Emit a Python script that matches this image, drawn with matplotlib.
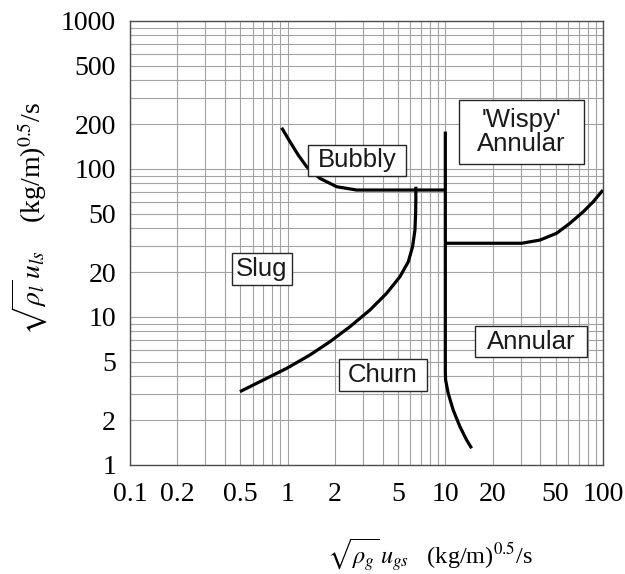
import matplotlib
matplotlib.use('Agg')
import matplotlib.pyplot as plt
from matplotlib.path import Path
from matplotlib.ticker import FixedLocator, FixedFormatter, LogLocator, NullFormatter

# boundary curves, (x, y) in (kg/m)^0.5/s
bubbly_x = [0.916, 1.034, 1.167, 1.319, 1.60, 2.045, 2.739, 10.0]
bubbly_y = [190, 153, 124.3, 103.6, 86.5, 75.9, 72.1, 72.1]

churn_x = [0.498, 0.700, 0.986, 1.385, 1.854, 2.483, 3.325, 4.244, 5.154, 5.819,
           6.20, 6.415, 6.48, 6.50, 6.50]
churn_y = [3.13, 3.75, 4.50, 5.54, 6.81, 8.60, 11.15, 14.46, 18.72, 23.6,
           29.9, 38.7, 50.2, 61.7, 75.9]

wispy_x = [10.0, 10.0, 10.04, 10.43, 11.22, 12.38, 13.65, 14.68]
wispy_y = [179, 4.2, 3.75, 3.05, 2.35, 1.815, 1.475, 1.297]

annular_x = [10.0, 30.5, 39.8, 50.8, 61.7, 74.9, 86.7, 98.0, 100]
annular_y = [31.5, 31.5, 33.1, 36.8, 43.0, 51.4, 60.1, 70.3, 72]

# region labels
region_names = ['Bubbly', "'Wispy'\nAnnular", 'Slug', 'Churn', 'Annular']
region_x = [2.75, 30.2, 0.687, 4.02, 34.9]
region_y = [115, 178, 21.1, 4.06, 6.78]

x_ticks = [0.1, 0.2, 0.5, 1, 2, 5, 10, 20, 50, 100]
x_ticklabels = ['0.1', '0.2', '0.5', '1', '2', '5', '10', '20', '50', '100']
y_ticks = [1, 2, 5, 10, 20, 50, 100, 200, 500, 1000]
y_ticklabels = ['1', '2', '5', '10', '20', '50', '100', '200', '500', '1000']


def fixed_box(w, h):
    # rectangle of w x h pixels centred on the text
    def style(x0, y0, width, height, mutation_size):
        cx = x0 + width / 2
        cy = y0 + height / 2
        verts = [(cx - w / 2, cy - h / 2), (cx + w / 2, cy - h / 2),
                 (cx + w / 2, cy + h / 2), (cx - w / 2, cy + h / 2),
                 (cx - w / 2, cy - h / 2)]
        return Path(verts, closed=True)
    return style


box_sizes = [(98, 31), (125, 64), (60, 32), (88, 32), (112, 31)]

plt.rcParams['mathtext.fontset'] = 'stix'

fig = plt.figure(figsize=(6.25, 5.74), dpi=100)
ax = fig.add_axes([130 / 625, 1 - 465 / 574, 473 / 625, 444 / 574])
ax.set_xscale('log')
ax.set_yscale('log')
ax.set_xlim(0.1, 100)
ax.set_ylim(1, 1000)

ax.xaxis.set_major_locator(FixedLocator(x_ticks))
ax.xaxis.set_major_formatter(FixedFormatter(x_ticklabels))
ax.yaxis.set_major_locator(FixedLocator(y_ticks))
ax.yaxis.set_major_formatter(FixedFormatter(y_ticklabels))
ax.xaxis.set_minor_locator(LogLocator(base=10, subs=range(1, 10), numticks=20))
ax.yaxis.set_minor_locator(LogLocator(base=10, subs=range(1, 10), numticks=20))
ax.xaxis.set_minor_formatter(NullFormatter())
ax.yaxis.set_minor_formatter(NullFormatter())
ax.tick_params(which='both', length=0)
ax.tick_params(axis='x', pad=12)
ax.tick_params(axis='y', pad=10)
for lbl in ax.get_xticklabels() + ax.get_yticklabels():
    lbl.set_fontfamily('Liberation Serif')
    lbl.set_fontsize(20)

ax.grid(True, which='both', color='0.64', lw=0.8)
ax.set_axisbelow(True)
for sp in ax.spines.values():
    sp.set_color('0.3')
    sp.set_linewidth(1.0)

for xs, ys in [(bubbly_x, bubbly_y), (churn_x, churn_y), (wispy_x, wispy_y), (annular_x, annular_y)]:
    ax.plot(xs, ys, color='black', lw=2.3, solid_capstyle='butt', solid_joinstyle='round', zorder=3)

for name, x, y, (bw, bh) in zip(region_names, region_x, region_y, box_sizes):
    ax.text(x, y, name, ha='center', va='center', fontsize=18.5, fontfamily='Liberation Sans',
            linespacing=1.0, zorder=4, color='0.1',
            bbox=dict(boxstyle=fixed_box(bw, bh), fc='white', ec='0.15', lw=1.0))

fig.text(430 / 625, 1 - 555 / 574, r'$\sqrt{\rho_g}\,u_{gs}$   (kg/m)$^{0.5}$/s',
         ha='center', va='center', fontsize=17.5, fontfamily='Liberation Serif')
fig.text(30 / 625, 1 - 218 / 574, r'$\sqrt{\rho_l}\,u_{ls}$    (kg/m)$^{0.5}$/s',
         ha='center', va='center', rotation=90, fontsize=20, fontfamily='Liberation Serif')

fig.savefig('out.png', dpi=100)
